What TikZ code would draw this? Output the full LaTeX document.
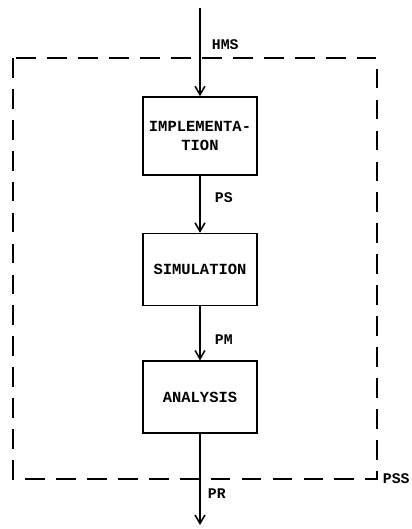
\documentclass[tikz,border=0pt]{standalone}
\usepackage{fontspec}
\setmonofont{Liberation Mono}
\usetikzlibrary{positioning,arrows.meta}
\begin{document}
\begin{tikzpicture}[x=0.025cm,y=-0.025cm,
    block/.style={draw, line width=1.1pt, minimum width=2.85cm, minimum height=1.8cm,
        inner xsep=2pt, align=center, font=\ttfamily\bfseries\fontsize{11}{14}\selectfont},
    flow/.style={line width=1.1pt, -{Straight Barb[length=6pt,width=7pt]}},
    tag/.style={anchor=west, font=\ttfamily\bfseries\fontsize{10.5}{12}\selectfont}]

    \useasboundingbox (0,0) rectangle (412,529);

    % Dashed system boundary
    \draw[line width=1.1pt, dash pattern=on 14pt off 8pt] (13,58) rectangle (377,479);

    % The three stages
    \node[block, minimum height=1.95cm] (impl) at (200,136) {IMPLEMENTA-\\TION};
    \node[block, below=1.425cm of impl] (sim) {SIMULATION};
    \node[block, below=1.35cm of sim] (ana) {ANALYSIS};

    % Free ends of the input and output
    \coordinate (in) at (200,8);
    \coordinate (out) at (200,525);

    % Flow arrows
    \draw[flow] (in) -- (impl);
    \draw[flow] (impl) -- (sim);
    \draw[flow] (sim) -- (ana);
    \draw[flow] (ana) -- (out);

    % Labels
    \node[tag] (hms) at (207,45) {HMS};
    \node[tag] (ps) at (210,198) {PS};
    \node[tag] (pm) at (210,340) {PM};
    \node[tag] (pr) at (203,494) {PR};
    \node[tag] (pss) at (378,479) {PSS};

\end{tikzpicture}
\end{document}
